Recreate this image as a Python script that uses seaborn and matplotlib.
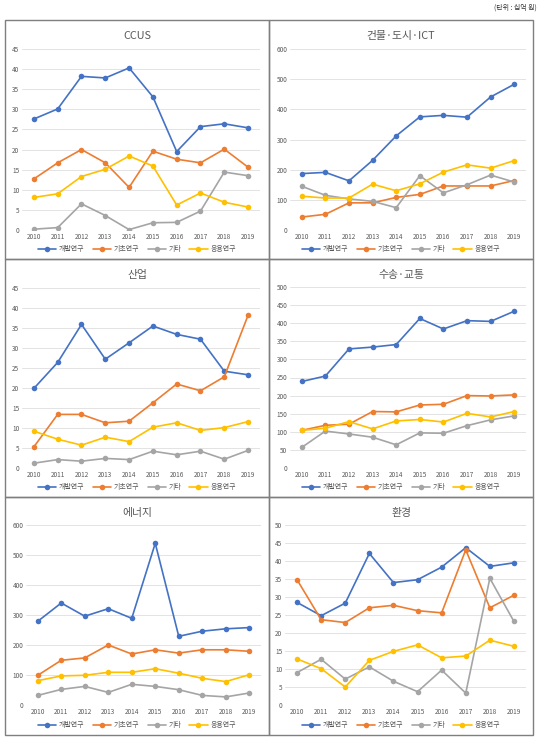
import seaborn as sns
import matplotlib.pyplot as plt
import matplotlib as mpl
import pandas as pd

# 데이터 (단위: 십억 원)
years = [2010, 2011, 2012, 2013, 2014, 2015, 2016, 2017, 2018, 2019]
series_names = ['개발연구', '기초연구', '기타', '응용연구']

ccus_dev = [27.6, 30.1, 38.2, 37.8, 40.3, 33.1, 19.5, 25.7, 26.4, 25.4]
ccus_basic = [12.7, 16.7, 20.0, 16.7, 10.6, 19.6, 17.6, 16.7, 20.1, 15.6]
ccus_etc = [0.2, 0.6, 6.5, 3.6, 0.1, 1.8, 1.9, 4.7, 14.4, 13.5]
ccus_app = [8.1, 9.0, 13.3, 15.1, 18.4, 15.9, 6.2, 9.2, 6.9, 5.7]

bldg_dev = [187, 191, 163, 231, 312, 375, 380, 374, 441, 483]
bldg_basic = [43, 52, 90, 90, 108, 118, 146, 146, 146, 164]
bldg_etc = [145, 115, 103, 95, 74, 180, 123, 150, 182, 159]
bldg_app = [112, 106, 106, 152, 130, 153, 192, 216, 205, 230]

ind_dev = [19.9, 26.4, 35.9, 27.2, 31.3, 35.5, 33.4, 32.2, 24.2, 23.3]
ind_basic = [5.3, 13.4, 13.4, 11.3, 11.7, 16.3, 21.0, 19.3, 22.8, 38.2]
ind_etc = [1.2, 2.1, 1.7, 2.4, 2.1, 4.2, 3.3, 4.2, 2.2, 4.4]
ind_app = [9.2, 7.2, 5.7, 7.7, 6.6, 10.2, 11.3, 9.4, 10.1, 11.6]

trans_dev = [239, 254, 329, 334, 341, 413, 384, 407, 405, 433]
trans_basic = [104, 118, 121, 156, 155, 174, 176, 200, 199, 202]
trans_etc = [57, 102, 94, 85, 64, 97, 96, 117, 133, 144]
trans_app = [104, 110, 128, 108, 130, 134, 127, 151, 141, 156]

energy_dev = [279, 340, 296, 321, 289, 539, 229, 246, 254, 258]
energy_basic = [99, 149, 157, 200, 170, 184, 173, 184, 184, 179]
energy_etc = [32, 52, 62, 42, 69, 62, 51, 32, 27, 40]
energy_app = [81, 97, 99, 109, 109, 121, 106, 89, 78, 101]

env_dev = [28.5, 24.8, 28.3, 42.1, 34.0, 34.8, 38.3, 43.7, 38.5, 39.5]
env_basic = [34.8, 23.7, 22.9, 27.0, 27.7, 26.2, 25.6, 43.1, 27.0, 30.5]
env_etc = [9.0, 12.7, 7.2, 10.6, 6.6, 3.7, 9.7, 3.3, 35.2, 23.2]
env_app = [12.8, 10.1, 5.0, 12.4, 14.9, 16.7, 13.1, 13.6, 18.0, 16.3]

colors = ['#4472C4', '#ED7D31', '#A5A5A5', '#FFC000']
palette = dict(zip(series_names, colors))

sns.set_style("white")
plt.rcParams['font.family'] = ['Noto Sans CJK KR', 'DejaVu Sans']

W, H = 543, 743
fig = plt.figure(figsize=(W / 100, H / 100), dpi=100)
text_color = '#595959'

# 패널: (제목, 계열, y최대, y간격, 플롯 영역 px(좌,우,상,하), 패널 px(좌,우,상,하))
panels = [
    ('CCUS', [ccus_dev, ccus_basic, ccus_etc, ccus_app], 45, 5,
     (22, 260, 49, 230), (5, 269, 20, 259)),
    ('건물·도시·ICT', [bldg_dev, bldg_basic, bldg_etc, bldg_app], 600, 100,
     (290, 526, 49, 230), (269, 533, 20, 259)),
    ('산업', [ind_dev, ind_basic, ind_etc, ind_app], 45, 5,
     (22, 260, 288, 468), (5, 269, 259, 497)),
    ('수송·교통', [trans_dev, trans_basic, trans_etc, trans_app], 500, 50,
     (290, 526, 287, 468), (269, 533, 259, 497)),
    ('에너지', [energy_dev, energy_basic, energy_etc, energy_app], 600, 100,
     (26, 261, 525, 705), (5, 269, 497, 735)),
    ('환경', [env_dev, env_basic, env_etc, env_app], 50, 5,
     (285, 526, 525, 705), (269, 533, 497, 735)),
]

for title, values, ymax, step, (l, r, t, b), (pl, pr, pt, pb) in panels:
    ax = fig.add_axes([l / W, 1 - b / H, (r - l) / W, (b - t) / H])
    df = pd.DataFrame({
        'year': years * 4,
        'value': sum(values, []),
        'series': [s for s in series_names for _ in years],
    })
    sns.lineplot(data=df, x='year', y='value', hue='series', palette=palette,
                 marker='o', markersize=4, markeredgewidth=0, linewidth=1.2,
                 ax=ax, zorder=3)
    ax.set_xlim(2009.5, 2019.5)
    ax.set_ylim(0, ymax)
    ax.set_xticks(years)
    ax.set_yticks(range(0, ymax + 1, step))
    ax.set_xlabel('')
    ax.set_ylabel('')
    for s in ax.spines.values():
        s.set_visible(False)
    ax.grid(axis='y', color='#E3E3E3', linewidth=0.7, zorder=0)
    ax.grid(axis='x', visible=False)
    ax.tick_params(length=0, labelsize=4.6, labelcolor=text_color, pad=2)

    cx = (pl + pr) / 2
    fig.text(cx / W, 1 - (pt + 16) / H, title, ha='center', va='center',
             fontsize=7.8, color=text_color)
    handles, labels = ax.get_legend_handles_labels()
    ax.legend(handles, labels, loc='center', ncol=4, frameon=False,
              bbox_to_anchor=(cx / W, 1 - (pb - 10) / H),
              bbox_transform=fig.transFigure, fontsize=5, handlelength=2.6,
              columnspacing=1.2, handletextpad=0.4, labelcolor=text_color)

    # 패널 테두리
    rect = mpl.patches.Rectangle((pl / W, 1 - pb / H), (pr - pl) / W, (pb - pt) / H,
                                 transform=fig.transFigure, fill=False,
                                 edgecolor='#7F7F7F', linewidth=1.0)
    fig.add_artist(rect)

fig.text(537 / W, 1 - 8 / H, '(단위 : 십억 원)', ha='right', va='center',
         fontsize=5.0, color='#333333')

plt.savefig('out.png', dpi=100)
